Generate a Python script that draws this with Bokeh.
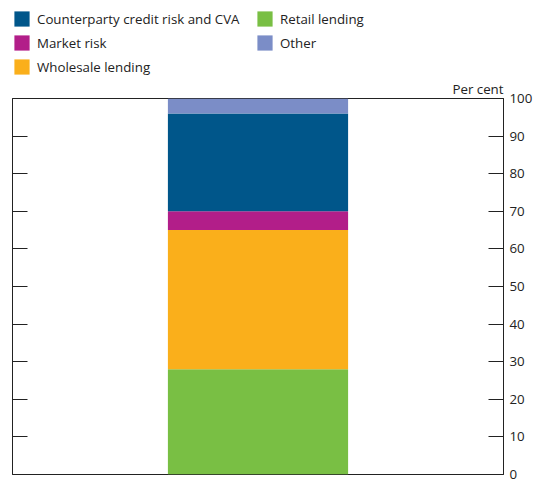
from bokeh.plotting import figure
from bokeh.layouts import column
from bokeh.models import ColumnDataSource, Range1d, LinearAxis, Legend, LegendItem, Title, FixedTicker
from bokeh.embed import file_html
from bokeh.resources import INLINE

categories = ["Total"]
retail = [28]
wholesale = [37]
market = [5]
ccr = [26]
other = [4]
series = ["retail", "wholesale", "market", "ccr", "other"]
names = {"retail": "Retail lending", "wholesale": "Wholesale lending", "market": "Market risk",
         "ccr": "Counterparty credit risk and CVA", "other": "Other"}
colors = ["#79BF44", "#FAAF1B", "#B21E89", "#00568A", "#7B8DC7"]
ticks = [0, 10, 20, 30, 40, 50, 60, 70, 80, 90, 100]
legend_order = ["ccr", "market", "wholesale", "retail", "other"]

FONT = "Open Sans"
TXT = "#222222"
FS = "13.3px"

src = ColumnDataSource(dict(x=[0.5], retail=retail, wholesale=wholesale, market=market, ccr=ccr, other=other))

# ---- legend strip (top) ----
top = figure(width=537, height=76, output_backend="svg", toolbar_location=None,
             x_range=Range1d(0, 1), y_range=Range1d(1000, 2000))
top.min_border_left = top.min_border_right = top.min_border_top = top.min_border_bottom = 0
top.axis.visible = False
top.grid.visible = False
top.outline_line_color = None
leg_rs = top.vbar_stack(series, x="x", width=0.367, source=src, color=colors, line_width=0)
for r in leg_rs:
    r.visible = False
items = [LegendItem(label=names[s], renderers=[leg_rs[series.index(s)]]) for s in legend_order]
leg = Legend(items=items, location=(0, 0), orientation="vertical", nrows=3,
             glyph_width=19, glyph_height=19, label_standoff=6, spacing=5,
             padding=0, margin=0, border_line_color=None, background_fill_alpha=0,
             inactive_fill_alpha=0,
             label_text_font=FONT, label_text_font_size=FS, label_text_color=TXT,
             label_height=19, label_width=213)
top.add_layout(leg, "center")

# ---- chart ----
p = figure(width=537, height=404, output_backend="svg", toolbar_location=None,
           x_range=Range1d(0, 1), y_range=Range1d(0, 100), y_axis_location=None)
p.min_border_left = 12
p.min_border_top = 19
p.min_border_bottom = 6
p.min_border_right = 34
p.xaxis.visible = False
p.xgrid.visible = False
p.ygrid.visible = False
p.outline_line_color = TXT
p.outline_line_width = 1

p.vbar_stack(series, x="x", width=0.367, source=src, color=colors, line_width=0)

for loc in ["left", "right"]:
    ax = LinearAxis(ticker=FixedTicker(ticks=ticks))
    ax.major_tick_in = 15
    ax.major_tick_out = 0
    ax.minor_tick_line_color = None
    ax.axis_line_color = TXT
    ax.major_tick_line_color = TXT
    if loc == "left":
        ax.major_label_text_font_size = "0px"
        ax.major_label_standoff = 0
    else:
        ax.major_label_text_font_size = FS
        ax.major_label_text_font = FONT
        ax.major_label_text_color = TXT
        ax.major_label_standoff = 6
    p.add_layout(ax, loc)

p.add_layout(Title(text="Per cent", align="right", text_font=FONT, text_font_size=FS,
                   text_font_style="normal", text_color=TXT, standoff=2), "above")

layout = column(top, p, spacing=0)
open("out.html", "w").write(file_html(layout, INLINE))
